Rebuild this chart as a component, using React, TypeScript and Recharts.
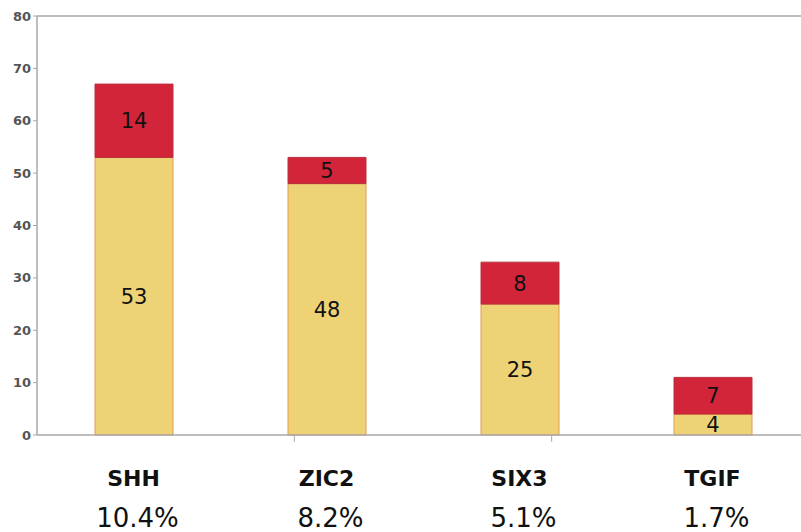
import { BarChart, Bar, XAxis, YAxis, LabelList, ReferenceLine } from "recharts";

const genes = ["SHH", "ZIC2", "SIX3", "TGIF"];
const baseCounts = [53, 48, 25, 4];
const extraCounts = [14, 5, 8, 7];
const percents = ["10.4%", "8.2%", "5.1%", "1.7%"];
const yTicks = [0, 10, 20, 30, 40, 50, 60, 70, 80];
const boundaries = [1, 2, 3];

const data = genes.map((gene, i) => ({
  gene,
  base: baseCounts[i],
  extra: extraCounts[i],
}));

const FONT = "'DejaVu Sans', Verdana, sans-serif";
const AXIS = "#a8a8a8";

function GeneTick(props: any) {
  const { x, y, payload } = props;
  const idx = payload.index;
  return (
    <g>
      <text
        x={x}
        y={y + 43}
        textAnchor="middle"
        fontFamily={FONT}
        fontWeight="bold"
        fontSize={22}
        fill="#111"
      >
        {payload.value}
      </text>
      <text
        x={x + 4}
        y={y + 84}
        textAnchor="middle"
        fontFamily={FONT}
        fontSize={26}
        fill="#111"
      >
        {percents[idx]}
      </text>
    </g>
  );
}

export default function App() {
  return (
    <>
      <style>{"html,body{margin:0;overflow:hidden;background:#fff}"}</style>
      <BarChart
        width={812}
        height={532}
        data={data}
        margin={{ top: 16, right: 3, left: 0, bottom: 0 }}
      >
        <XAxis
          xAxisId="cat"
          dataKey="gene"
          height={97}
          axisLine={{ stroke: AXIS, strokeWidth: 1.5 }}
          tickLine={false}
          tick={<GeneTick />}
          interval={0}
        />
        <XAxis xAxisId="edge" type="number" domain={[0, 4]} hide />
        <YAxis
          width={37}
          domain={[0, 80]}
          ticks={yTicks}
          interval={0}
          axisLine={{ stroke: AXIS, strokeWidth: 1.5 }}
          tickLine={{ stroke: AXIS }}
          tickSize={4}
          tick={{ fill: "#555", fontSize: 13, fontWeight: "bold", fontFamily: FONT }}
        />
        <ReferenceLine xAxisId="cat" y={80} stroke={AXIS} strokeWidth={1.5} />
        {boundaries.map((b) => (
          <ReferenceLine
            key={b}
            xAxisId="edge"
            segment={[
              { x: b, y: 0 },
              { x: b, y: -1.3 },
            ]}
            ifOverflow="visible"
            stroke={AXIS}
          />
        ))}
        <Bar
          xAxisId="cat"
          dataKey="base"
          stackId="a"
          barSize={78}
          fill="#EDD276"
          stroke="#E39A55"
          strokeWidth={1}
          isAnimationActive={false}
        >
          <LabelList
            dataKey="base"
            position="center"
            fill="#111"
            fontSize={21}
            fontFamily={FONT}
          />
        </Bar>
        <Bar
          xAxisId="cat"
          dataKey="extra"
          stackId="a"
          barSize={78}
          fill="#D2253A"
          stroke="#B8303C"
          strokeWidth={1}
          isAnimationActive={false}
        >
          <LabelList
            dataKey="extra"
            position="center"
            fill="#111"
            fontSize={21}
            fontFamily={FONT}
          />
        </Bar>
      </BarChart>
    </>
  );
}
